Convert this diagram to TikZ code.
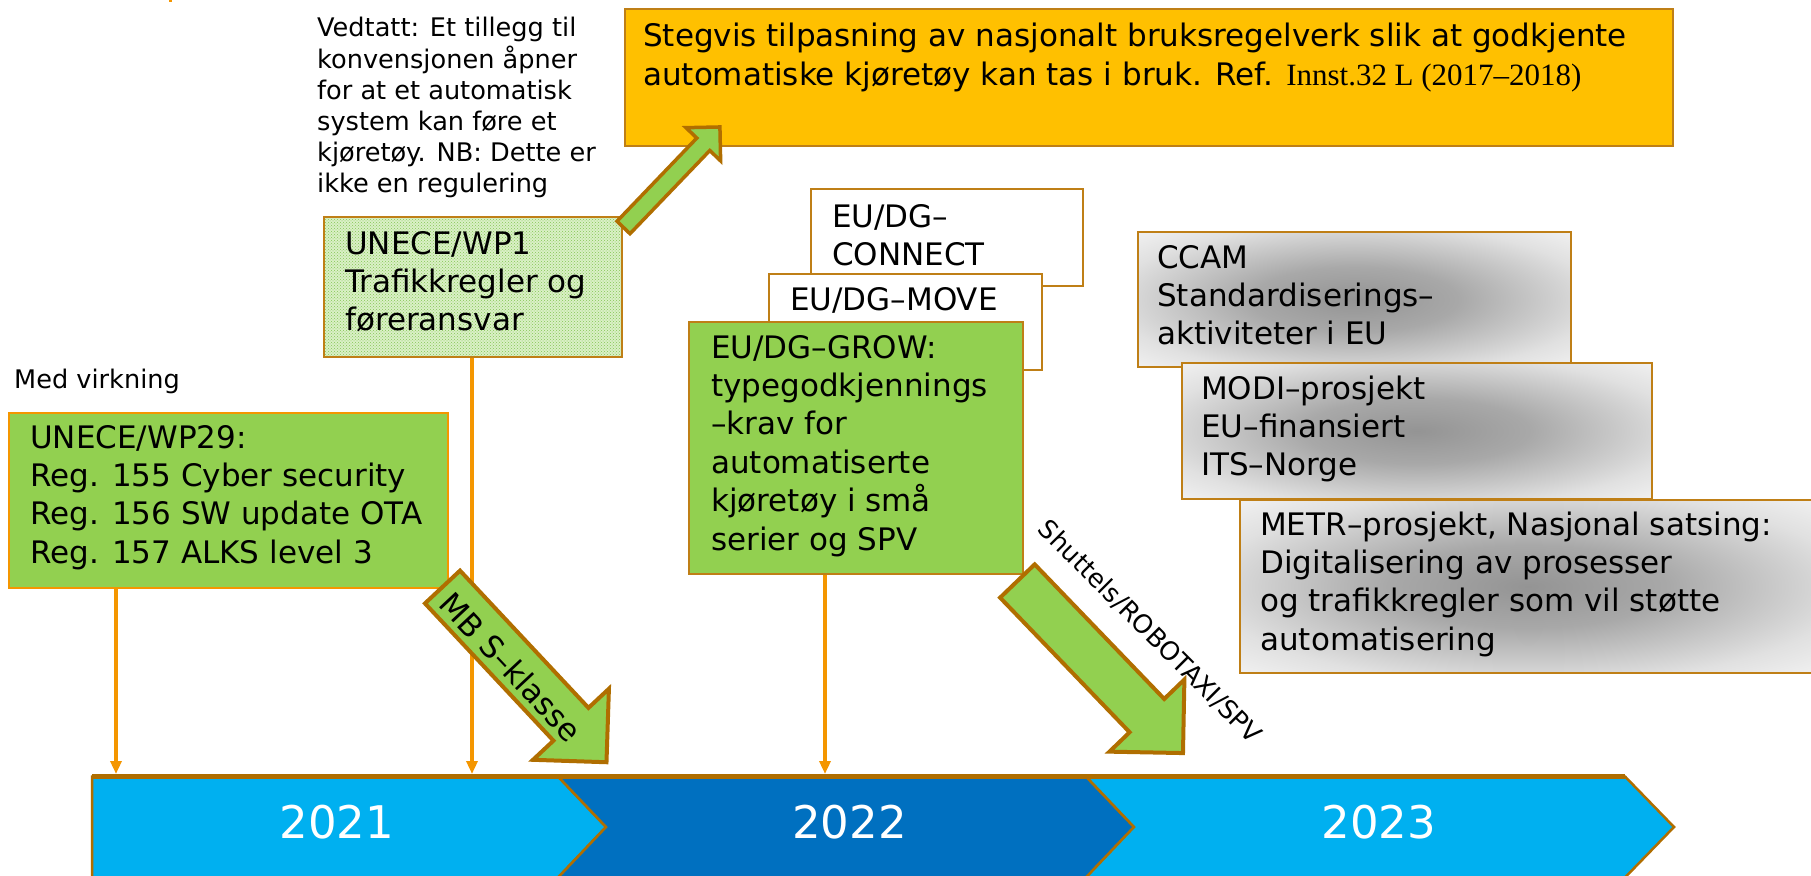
\documentclass[tikz,border=0pt]{standalone}
\usepackage{fontspec}
\setmainfont{DejaVu Sans}
\newfontfamily\refserif{Liberation Serif}
\usetikzlibrary{patterns,fit,arrows.meta}

\definecolor{leafgreen}{RGB}{146,208,80}
\definecolor{amber}{RGB}{255,192,0}
\definecolor{boxedge}{RGB}{191,127,22}
\definecolor{arrowedge}{RGB}{176,110,0}
\definecolor{linkorange}{RGB}{244,150,0}
\definecolor{skyblue}{RGB}{0,176,240}
\definecolor{deepblue}{RGB}{0,112,192}
\definecolor{hatchbg}{RGB}{218,240,198}
\definecolor{hatchdot}{RGB}{132,198,84}

% grey glow used by the three project boxes on the right
\pgfdeclareradialshading{boxglow}{\pgfpoint{0bp}{0bp}}{color(0bp)=(black!42); color(12bp)=(black!34); color(28bp)=(black!12); color(42bp)=(white); color(50bp)=(white)}

\newcommand{\boxfont}{\fontsize{31}{38.4}\selectfont}
\newcommand{\notefont}{\fontsize{25.6}{31}\selectfont}
\newcommand{\yearfont}{\fontsize{45}{54}\selectfont}
\newcommand{\lns}[1]{\begin{tabular}[t]{@{}l@{}}#1\end{tabular}}

\tikzset{
  panel/.style={inner sep=0pt, line width=2pt},
  greenpanel/.style={panel, fill=leafgreen, draw=boxedge},
  whitepanel/.style={panel, fill=white, draw=boxedge},
  glowpanel/.style={panel, shading=boxglow, draw=boxedge},
  hatchpanel/.style={panel, draw=boxedge, preaction={fill=hatchbg},
    pattern=crosshatch dots, pattern color=hatchdot},
  boxlabel/.style={inner sep=0pt, anchor=base west, font=\boxfont},
  notelabel/.style={inner sep=0pt, anchor=base west, font=\notefont},
  link/.style={draw=linkorange, line width=3.5pt,
    -{Triangle[width=11pt,length=13pt]}},
  blockarrow/.style={fill=leafgreen, draw=arrowedge, line width=4pt, line join=miter},
  chevron/.style={draw=arrowedge, line width=2.5pt, line join=miter},
  yearlabel/.style={text=white, font=\yearfont, inner sep=0pt}
}

\begin{document}
\begin{tikzpicture}[x=1pt, y=-1pt]
\useasboundingbox (0,0) rectangle (1811,875);

% small orange mark at the top edge
\fill[linkorange] (169,0) rectangle (172,2.5);

% national rules box
\node[panel, fill=amber, draw=boxedge, line width=2.5pt, fit={(625,9) (1673,146)}] (stegvis) {};
\node[boxlabel] (stegvis-text) at (643,47)
  {\lns{Stegvis tilpasning av nasjonalt bruksregelverk slik at godkjente\\
        automatiske kjøretøy kan tas i bruk. Ref. {\refserif Innst.32 L (2017–2018)}}};

% WP1 note and box
\node[notelabel] (vedtatt) at (317,37)
  {\lns{Vedtatt: Et tillegg til\\konvensjonen åpner\\for at et automatisk\\
        system kan føre et\\kjøretøy. NB: Dette er\\ikke en regulering}};
\node[hatchpanel, fit={(324,217) (622,357)}] (wp1) {};
\node[boxlabel] (wp1-text) at (345,254)
  {\lns{UNECE/WP1\\Trafikkregler og\\føreransvar}};

% arrow from WP1 up to the national rules
\begin{scope}[shift={(623.5,227.5)}, rotate=46.2]
  \draw[blockarrow, line width=3.5pt] (0,-9) -- (115.3,-9) -- (115.3,-24) -- (139.3,0)
    -- (115.3,24) -- (115.3,9) -- (0,9) -- cycle;
\end{scope}

% WP29
\node[notelabel] (virkning) at (14,388) {Med virkning};
\node[panel, fill=leafgreen, draw=linkorange, line width=2.5pt, fit={(9,413) (448,588)}] (wp29) {};
\node[boxlabel] (wp29-text) at (30,448)
  {\lns{UNECE/WP29:\\Reg. 155 Cyber security\\Reg. 156 SW update OTA\\Reg. 157 ALKS level 3}};

% EU directorates
\node[whitepanel, fit={(811,189) (1083,286)}] (connect) {};
\node[boxlabel] (connect-text) at (832,227) {\lns{EU/DG–\\CONNECT}};
\node[whitepanel, fit={(769,274) (1042,370)}] (move) {};
\node[boxlabel] (move-text) at (790,310) {EU/DG–MOVE};
\node[greenpanel, fit={(689,322) (1023,574)}] (grow) {};
\node[boxlabel] (grow-text) at (711,358)
  {\lns{EU/DG–GROW:\\typegodkjennings\\–krav for\\automatiserte\\kjøretøy i små\\serier og SPV}};

% projects
\node[glowpanel, fit={(1138,232) (1571,367)}] (ccam) {};
\node[boxlabel] (ccam-text) at (1157,268)
  {\lns{CCAM\\Standardiserings–\\aktiviteter i EU}};
\node[glowpanel, fit={(1182,363) (1652,499)}] (modi) {};
\node[boxlabel] (modi-text) at (1201,399)
  {\lns{MODI–prosjekt\\EU–finansiert\\ITS–Norge}};
\node[glowpanel, fit={(1240,500) (1816,673)}] (metr) {};
\node[boxlabel] (metr-text) at (1260,535)
  {\lns{METR–prosjekt, Nasjonal satsing:\\Digitalisering av prosesser\\
        og trafikkregler som vil støtte\\automatisering}};

% points on the time line
\coordinate (t-wp29) at (116,774);
\coordinate (t-wp1) at (472,774);
\coordinate (t-grow) at (825,774);

\draw[link] (wp29.south -| t-wp29) -- (t-wp29);
\draw[link] (wp1.south -| t-wp1) -- (t-wp1);
\draw[link] (grow.south -| t-grow) -- (t-grow);

% time line
\draw[chevron, fill=skyblue] (92,776.5) -- (558,776.5) -- (606,827) -- (558,877.5) -- (92,877.5) -- cycle;
\draw[chevron, fill=deepblue] (558,776.5) -- (1086,776.5) -- (1134,827) -- (1086,877.5) -- (558,877.5) -- (606,827) -- cycle;
\draw[chevron, fill=skyblue] (1086,776.5) -- (1625,776.5) -- (1674,827) -- (1625,877.5) -- (1086,877.5) -- (1134,827) -- cycle;
\draw[arrowedge, line width=4.5pt] (92,776.5) -- (1625,776.5);
\node[yearlabel] (y2021) at (337,822) {2021};
\node[yearlabel] (y2022) at (849.5,822) {2022};
\node[yearlabel] (y2023) at (1379,822) {2023};

% MB S-klasse arrow
\begin{scope}[shift={(442.5,587)}, rotate=-46.9]
  \draw[blockarrow] (0,-24) -- (188,-24) -- (188,-52) -- (240,0)
    -- (188,52) -- (188,24) -- (0,24) -- cycle;
\end{scope}
\node[rotate=-46.9, font=\boxfont, inner sep=0pt] (mbs) at (511,667) {MB S–klasse};

% shuttle arrow
\begin{scope}[shift={(1017.4,581)}, rotate=-46.1]
  \draw[blockarrow] (0,-24) -- (186.8,-24) -- (186.8,-52) -- (238.8,0)
    -- (186.8,52) -- (186.8,24) -- (0,24) -- cycle;
\end{scope}
\node[rotate=-45, font=\notefont, inner sep=0pt] (shuttle) at (1150,632) {Shuttels/ROBOTAXI/SPV};

\end{tikzpicture}
\end{document}
